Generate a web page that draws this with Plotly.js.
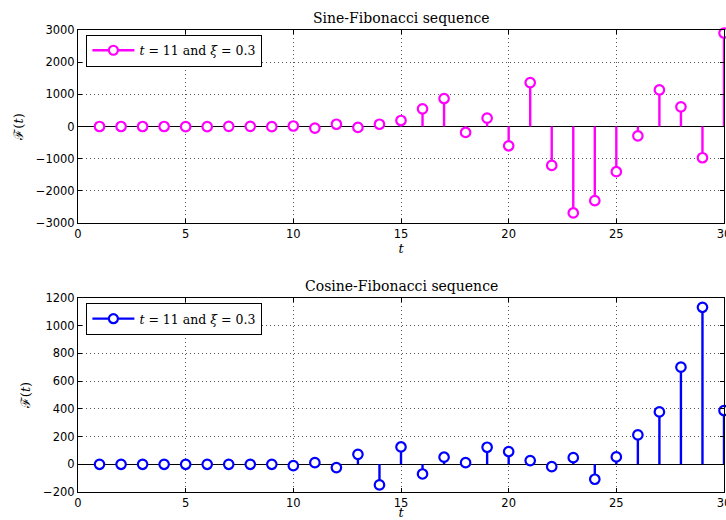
<!DOCTYPE html>
<html>
<head>
<meta charset="utf-8">
<script src="https://cdn.plot.ly/plotly-3.0.1.min.js"></script>
<style>html,body{margin:0;padding:0;background:#fff;overflow:hidden;}#chart{width:726px;height:520px;}</style>
</head>
<body>
<div id="chart"></div>
<script>
const t = [1,2,3,4,5,6,7,8,9,10,11,12,13,14,15,16,17,18,19,20,21,22,23,24,25,26,27,28,29,30];
const sineVals = [0,0,0,0,-5,-5,5,5,-5,15,-50,70,-30,70,186,548,869,-186,259,-600,1365,-1210,-2689,-2306,-1406,-290,1138,610,-972,2906];
const cosineVals = [0,0,0,0,0,0,0,0,0,-10,12,-24,72,-149,125,-70,51,12,123,92,27,-17,48,-108,53,212,378,701,1133,388];
const sineTitle = 'Sine-Fibonacci sequence';
const cosineTitle = 'Cosine-Fibonacci sequence';
const legendLabel = '<i>t</i> = 11 and <i>ξ</i> = 0.3';
const xTitle = '<i>t</i>';
const yTitle = 'ℱ(<i>t</i>)';

const MAG = '#ff00ff', BLU = '#0000ff';
function stem(vals, color, xa, ya) {
  return {
    x: t, y: vals, xaxis: xa, yaxis: ya, type: 'scatter', mode: 'markers',
    showlegend: false, cliponaxis: false,
    marker: {symbol: 'circle', size: 9.5, color: '#ffffff', line: {color: color, width: 2.2}},
    error_y: {type: 'data', symmetric: false,
      array: vals.map(v => v < 0 ? -v : 0),
      arrayminus: vals.map(v => v > 0 ? v : 0),
      width: 0, thickness: 2.4, color: color}
  };
}
function legendTrace(color, xa, ya, lg) {
  return {x: [null], y: [null], xaxis: xa, yaxis: ya, type: 'scatter', mode: 'lines+markers',
    name: legendLabel, legend: lg,
    line: {color: color, width: 2.4},
    marker: {symbol: 'circle', size: 9, color: '#ffffff', line: {color: color, width: 2.2}}};
}
const data = [
  stem(sineVals, MAG, 'x', 'y'), legendTrace(MAG, 'x', 'y', 'legend'),
  stem(cosineVals, BLU, 'x2', 'y2'), legendTrace(BLU, 'x2', 'y2', 'legend2')
];
const tickFont = {family: 'DejaVu Sans, sans-serif', size: 11.5, color: '#000'};
const serif = 'DejaVu Serif, serif';
function xax(anchor, standoff) {
  return {range: [0, 30], dtick: 5, tick0: 0, anchor: anchor, showline: true, linecolor: '#000', linewidth: 1,
    mirror: 'allticks', ticks: 'inside', ticklen: 4, tickcolor: '#000', zeroline: false,
    ticklabeloverflow: 'allow',
    showgrid: true, gridcolor: '#555', griddash: '1px,3px', gridwidth: 1, tickfont: tickFont,
    title: {text: xTitle, font: {family: serif, size: 13, color: '#000'}, standoff: standoff}};
}
function yax(range, dtick, domain, anchor) {
  return {range: range, dtick: dtick, domain: domain, anchor: anchor, showline: true, linecolor: '#000', linewidth: 1,
    mirror: 'allticks', ticks: 'inside', ticklen: 4, tickcolor: '#000',
    zeroline: true, zerolinecolor: '#000', zerolinewidth: 1,
    showgrid: true, gridcolor: '#555', griddash: '1px,3px', gridwidth: 1, tickfont: tickFont,
    title: {text: yTitle, font: {family: serif, size: 13, color: '#000'}, standoff: 9}};
}
const legendCommon = {xanchor: 'left', yanchor: 'top', bgcolor: '#fff', bordercolor: '#000', borderwidth: 1,
  itemwidth: 42, font: {family: serif, size: 12.5, color: '#000'}, xref: 'paper', yref: 'paper'};
const layout = {
  width: 726, height: 520, margin: {l: 78, r: 2, t: 30, b: 28},
  paper_bgcolor: '#fff', plot_bgcolor: '#fff',
  xaxis: xax('y', 1), yaxis: yax([-3000, 3000], 1000, [0.5823, 1], 'x'),
  xaxis2: xax('y2', 3), yaxis2: yax([-200, 1200], 200, [0, 0.4199], 'x2'),
  legend: Object.assign({x: 0.013, y: 0.99}, legendCommon),
  legend2: Object.assign({x: 0.013, y: 0.409}, legendCommon),
  annotations: [
    {text: sineTitle, xref: 'paper', yref: 'paper', x: 0.5, y: 1, yanchor: 'bottom', showarrow: false, yshift: 2,
      font: {family: serif, size: 14, color: '#000'}},
    {text: cosineTitle, xref: 'paper', yref: 'paper', x: 0.5, y: 0.4199, yanchor: 'bottom', showarrow: false, yshift: 2,
      font: {family: serif, size: 14, color: '#000'}}
  ]
};
Plotly.newPlot('chart', data, layout, {displayModeBar: false, staticPlot: true});
</script>
</body>
</html>
